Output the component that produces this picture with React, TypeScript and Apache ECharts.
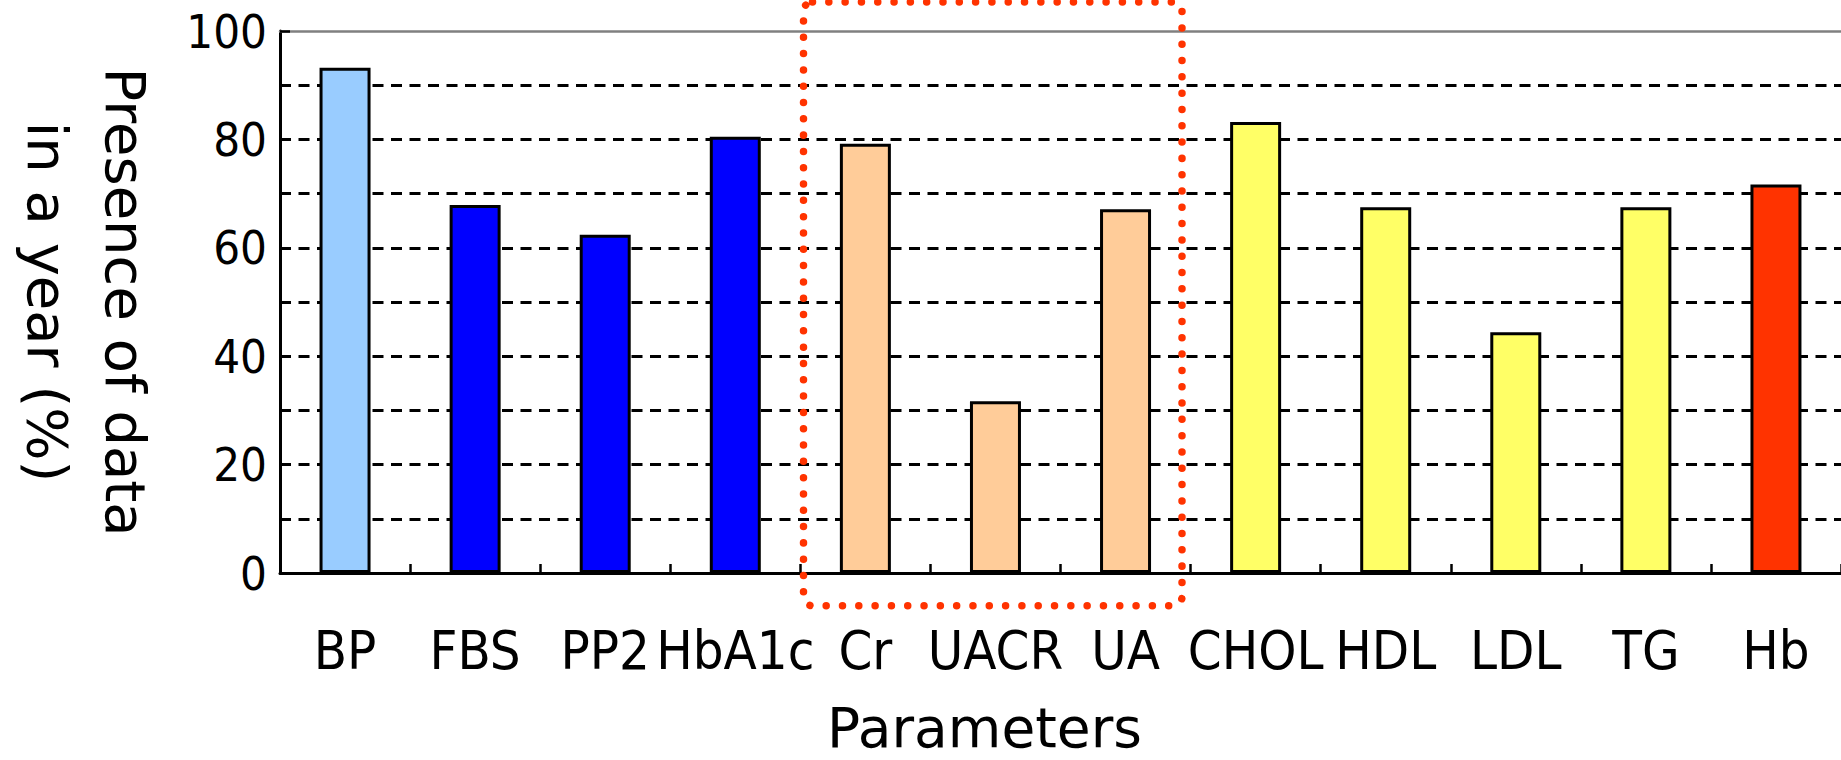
import React, { useEffect, useRef } from "react";
import * as echarts from "echarts";

// Lab parameters and the share of patients with a recorded value within one year (%)
const categories = ["BP", "FBS", "PP2", "HbA1c", "Cr", "UACR", "UA", "CHOL", "HDL", "LDL", "TG", "Hb"];
const presence = [93.2, 67.9, 62.4, 80.5, 79.2, 31.7, 67.1, 83.2, 67.5, 44.4, 67.5, 71.7];
const barColors = [
  "#99CCFF",
  "#0000FF", "#0000FF", "#0000FF",
  "#FFCC99", "#FFCC99", "#FFCC99",
  "#FFFF66", "#FFFF66", "#FFFF66", "#FFFF66",
  "#FF3300",
];
const yMin = 0;
const yMax = 100;
const yStep = 10;
const yLabelStep = 20;

const GRID_LEFT = 276;
const GRID_TOP = 31;
const GRID_HEIGHT = 543;

export default function App() {
  const ref = useRef<HTMLDivElement>(null);

  useEffect(() => {
    if (!ref.current) return;
    const chart = echarts.init(ref.current, null, { renderer: "svg" });

    const condensed = "'DejaVu Sans Condensed', 'Liberation Sans Narrow', 'DejaVu Sans', sans-serif";
    const regular = "'DejaVu Sans', 'Liberation Sans', sans-serif";

    chart.setOption({
      animation: false,
      backgroundColor: "#ffffff",
      grid: { left: GRID_LEFT, right: 0, top: GRID_TOP, height: GRID_HEIGHT, containLabel: false },
      xAxis: [
        {
          type: "category",
          data: categories,
          position: "bottom",
          name: "Parameters",
          nameLocation: "middle",
          nameGap: 127,
          nameTextStyle: {
            fontFamily: regular,
            fontSize: 55,
            lineHeight: 55,
            color: "#000",
            padding: [0, 152, 0, 0],
          },
          axisLine: { show: true, lineStyle: { color: "#000", width: 3 } },
          axisTick: { show: true, inside: true, length: 9, lineStyle: { color: "#000", width: 2.5 } },
          axisLabel: {
            margin: 50,
            fontFamily: condensed,
            fontSize: 54,
            lineHeight: 54,
            color: "#000",
            interval: 0,
          },
          splitLine: { show: false },
        },
        {
          // upper frame line of the plot area
          type: "category",
          data: categories,
          position: "top",
          axisLine: { show: true, lineStyle: { color: "#808080", width: 2.5 } },
          axisTick: { show: false },
          axisLabel: { show: false },
          splitLine: { show: false },
        },
      ],
      yAxis: {
        type: "value",
        min: yMin,
        max: yMax,
        interval: yStep,
        name: "Presence of data\nin a year (%)",
        nameLocation: "middle",
        nameRotate: -90,
        nameGap: 116,
        nameTextStyle: {
          fontFamily: regular,
          fontSize: 56,
          lineHeight: 78,
          color: "#000",
        },
        axisLine: { show: true, lineStyle: { color: "#000", width: 3 } },
        axisTick: { show: true, inside: true, length: 10, lineStyle: { color: "#000", width: 2.5 } },
        axisLabel: {
          margin: 13,
          fontFamily: condensed,
          fontSize: 47,
          color: "#000",
          formatter: (v: number) => (v % yLabelStep === 0 ? String(v) : ""),
        },
        splitLine: {
          show: true,
          showMaxLine: false,
          lineStyle: { color: "#000", width: 3, type: [11, 7.5] },
        },
      },
      series: [
        {
          type: "bar",
          xAxisIndex: 0,
          barWidth: 51,
          data: presence.map((v, i) => ({
            value: v,
            itemStyle: { color: barColors[i], borderColor: "#000", borderWidth: 3 },
          })),
        },
      ],
      graphic: [
        {
          // dotted frame around the kidney-related group (Cr, UACR, UA)
          type: "rect",
          z: 100,
          shape: { x: 803.5, y: 2, width: 378.5, height: 603.7, r: 9 },
          style: {
            fill: "none",
            stroke: "#FF3300",
            lineWidth: 7.5,
            lineDash: [0.01, 16.3],
            lineCap: "round",
          },
        },
      ],
    });

    return () => chart.dispose();
  }, []);

  return (
    <div
      ref={ref}
      style={{ position: "fixed", left: 0, top: 0, width: 1841, height: 760, background: "#fff" }}
    />
  );
}
